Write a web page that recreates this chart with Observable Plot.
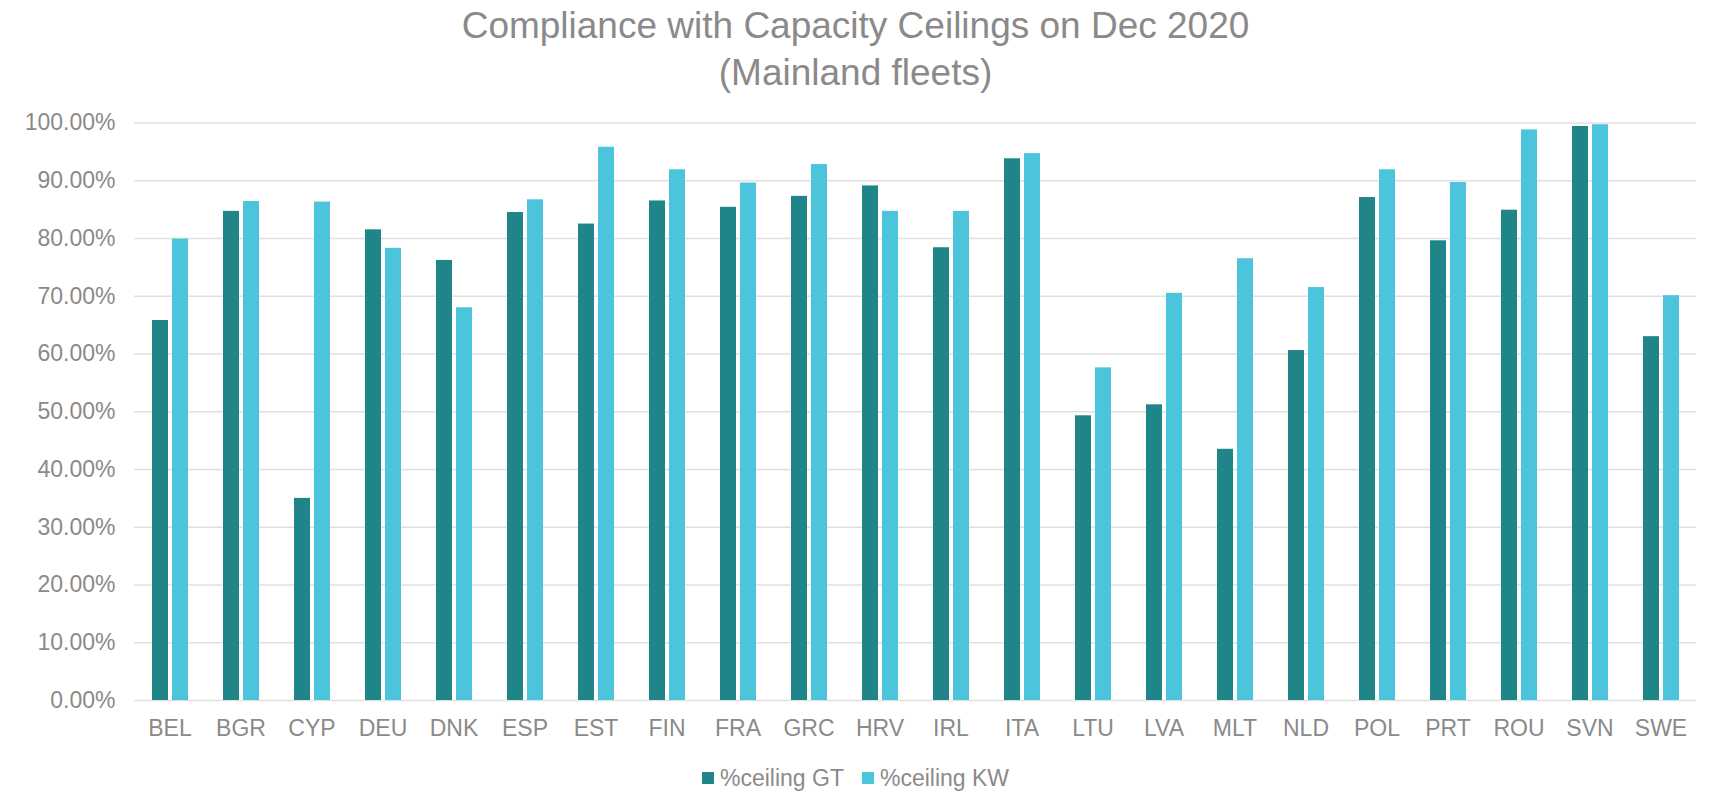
<!DOCTYPE html>
<html><head><meta charset="utf-8">
<script src="https://cdn.jsdelivr.net/npm/d3@7"></script>
<script src="https://cdn.jsdelivr.net/npm/@observablehq/plot@0.6"></script>
<style>
body{margin:0;background:#fff;font-family:"Liberation Sans",Arial,sans-serif;width:1711px;overflow:hidden;}
#title{text-align:center;color:#8a8a8a;font-size:37px;line-height:47px;height:94px;padding-top:2px;box-sizing:border-box;}
#chart svg{display:block;}
#legend{display:flex;justify-content:center;align-items:center;height:36px;font-size:23px;color:#8a8a8a;}
.item{display:flex;align-items:center;margin:0 9px;}
.sw{width:12px;height:12px;margin-right:6px;}
</style></head><body>
<div id="title">Compliance with Capacity Ceilings on Dec 2020<br>(Mainland fleets)</div>
<div id="chart"></div>
<div id="legend"></div>
<script>
const countries = ["BEL","BGR","CYP","DEU","DNK","ESP","EST","FIN","FRA","GRC","HRV","IRL","ITA","LTU","LVA","MLT","NLD","POL","PRT","ROU","SVN","SWE"];
const gtValues = [65.8,84.7,35.0,81.5,76.2,84.5,82.5,86.5,85.4,87.3,89.1,78.4,93.8,49.3,51.2,43.5,60.6,87.1,79.6,84.9,99.4,63.0];
const kwValues = [79.9,86.4,86.3,78.3,68.0,86.7,95.8,91.9,89.6,92.8,84.7,84.7,94.7,57.6,70.5,76.5,71.5,91.9,89.7,98.8,99.7,70.1];
const seriesNames = ["%ceiling GT","%ceiling KW"];
const seriesColors = ["#1f8589","#4bc4dc"];
const yTicks = [0,10,20,30,40,50,60,70,80,90,100];

const data = countries.flatMap((c,i)=>[
  {country:c, series:seriesNames[0], value:gtValues[i]},
  {country:c, series:seriesNames[1], value:kwValues[i]}
]);

const chart = Plot.plot({
  width:1711, height:666,
  marginTop:28.5, marginBottom:60, marginLeft:134, marginRight:15,
  style:{fontFamily:"Liberation Sans, Arial, sans-serif", fontSize:"23px", color:"#8a8a8a", background:"#fff", overflow:"visible"},
  fx:{domain:countries, paddingInner:0, paddingOuter:0, label:null, axis:"bottom", tickSize:0, tickPadding:19},
  x:{domain:seriesNames, paddingInner:0.225, paddingOuter:0.8875, axis:null},
  y:{domain:[0,100], ticks:yTicks, tickFormat:d=>d.toFixed(2)+"%", label:null, tickSize:0, tickPadding:19},
  color:{domain:seriesNames, range:seriesColors},
  marks:[
    Plot.ruleY(yTicks,{stroke:"#e0e0e0", strokeWidth:1.3}),
    Plot.barY(data,{fx:"country", x:"series", y:"value", fill:"series"})
  ]
});
document.getElementById("chart").appendChild(chart);

const legend = document.getElementById("legend");
seriesNames.forEach((s,i)=>{
  const it = document.createElement("div"); it.className="item";
  const sw = document.createElement("div"); sw.className="sw"; sw.style.background=seriesColors[i];
  const t = document.createElement("span"); t.textContent=s;
  it.appendChild(sw); it.appendChild(t); legend.appendChild(it);
});
</script>
</body></html>
